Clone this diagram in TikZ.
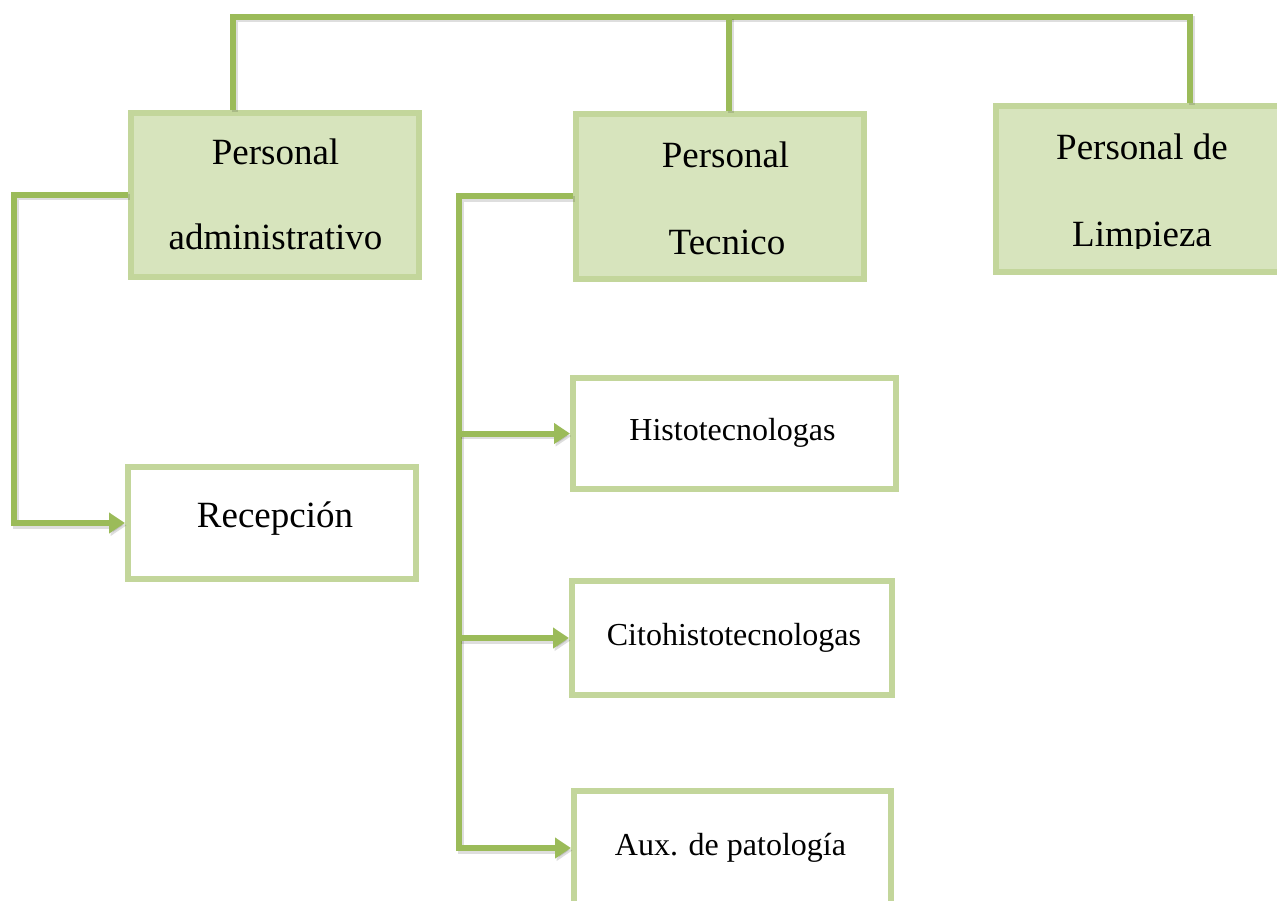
\documentclass[tikz,border=0pt]{standalone}
\usepackage{fontspec}
\setmainfont{Liberation Serif}
\usetikzlibrary{arrows.meta}
\definecolor{linkgreen}{HTML}{9BBB59}
\definecolor{framegreen}{HTML}{C3D69B}
\definecolor{fillgreen}{HTML}{D7E4BD}
\newcommand\headfont{\fontsize{37}{40}\selectfont}
\newcommand\subfont{\fontsize{32}{36}\selectfont}
\tikzset{
  headbox/.style={draw=framegreen, fill=fillgreen, line width=6pt, rectangle, inner sep=0pt},
  subbox/.style={draw=framegreen, fill=white, line width=6pt, rectangle, inner sep=0pt},
  headtext/.style={anchor=base, inner sep=0pt, font=\headfont},
  subtext/.style={anchor=base, inner sep=0pt, font=\subfont},
  link/.style={draw=linkgreen, line width=6pt, line join=miter,
    preaction={draw=black, opacity=0.13, line width=6pt,
      transform canvas={shift={(1.5pt,-2.5pt)}}}},
  arrowlink/.style={link, -{Triangle[length=16pt,width=20pt]}},
}
\begin{document}
\begin{tikzpicture}[x=1pt, y=-1pt]
  \clip (0,0) rectangle (1277,901);
  \fill[white] (0,0) rectangle (1277,901);

  % top level boxes
  \node[headbox, minimum width=288pt, minimum height=164pt] (adm) at (275,195) {};
  \node[headbox, minimum width=288pt, minimum height=165pt] (tec) at (720,196.5) {};
  \node[headbox, minimum width=288pt, minimum height=166pt] (lim) at (1140,189) {};

  % second level boxes
  \node[subbox, minimum width=288pt, minimum height=112pt] (rec) at (272,523) {};
  \node[subbox, minimum width=323pt, minimum height=111pt] (his) at (734.5,433.5) {};
  \node[subbox, minimum width=320pt, minimum height=114pt] (cit) at (732,638) {};
  \node[subbox, minimum width=317pt, minimum height=114pt] (aux) at (732.5,848) {};

  % labels
  \node[headtext] (adm1) at (275.5,165) {Personal};
  \node[headtext] (adm2) at (275.5,250) {administrativo};
  \node[headtext] (tec1) at (725.5,168) {Personal};
  \node[headtext] (tec2) at (727,255) {Tecnico};
  \node[headtext] (lim1) at (1142,160) {Personal de};
  \begin{scope}
    \clip (995,200) rectangle (1290,249);
    \node[headtext] (lim2) at (1142,247) {Limpieza};
  \end{scope}
  \node[headtext] (rect) at (275,527) {Recepción};
  \node[subtext] (hist) at (732.5,440) {Histotecnologas};
  \node[subtext] (citt) at (734,645) {Citohistotecnologas};
  \node[subtext] (auxt) at (730.5,855) {Aux. de patología};

  % top bus joining the three groups
  \coordinate (busl) at (233,17);
  \coordinate (busm) at (729,17);
  \coordinate (busr) at (1190,17);
  \draw[link] (busl |- adm.north) -- (busl) -- (busr) -- (busr |- lim.north);
  \draw[link] (busm) -- (busm |- tec.north);

  % administrative branch
  \coordinate (admrail) at (14,0);
  \draw[arrowlink] (adm.west) -- (adm.west -| admrail) |- (rec.west);

  % technical branch
  \coordinate (tecrail) at (459,0);
  \draw[arrowlink] (tec.west) -- (tec.west -| tecrail) |- (aux.west);
  \draw[arrowlink] (his.west -| tecrail) -- (his.west);
  \draw[arrowlink] (cit.west -| tecrail) -- (cit.west);
\end{tikzpicture}
\end{document}
